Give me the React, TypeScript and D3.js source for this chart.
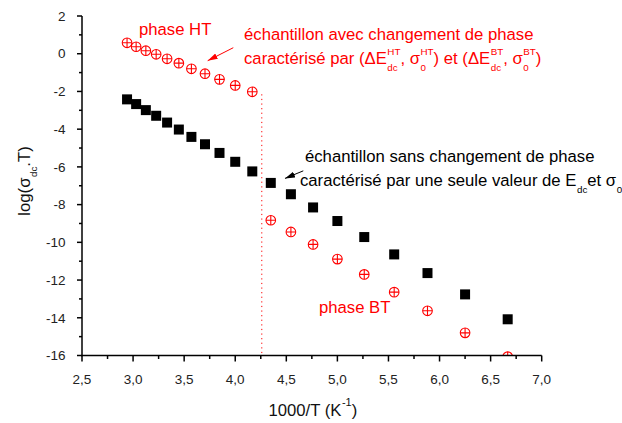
import React from "react";
import * as d3 from "d3";

const invT = [2.941, 3.030, 3.125, 3.226, 3.333, 3.448, 3.571, 3.704, 3.846, 4.0, 4.167, 4.348, 4.545, 4.762, 5.0, 5.263, 5.556, 5.882, 6.25, 6.667];
const noChange = [-2.42, -2.67, -2.99, -3.29, -3.65, -4.02, -4.41, -4.80, -5.26, -5.73, -6.24, -6.85, -7.45, -8.15, -8.87, -9.72, -10.64, -11.63, -12.76, -14.08];
const phaseHT = [0.58, 0.37, 0.16, -0.03, -0.27, -0.50, -0.80, -1.06, -1.36, -1.68, -2.02];
const phaseBT = [-8.83, -9.45, -10.11, -10.89, -11.70, -12.64, -13.63, -14.80, -16.06];

const xTicks = [2.5, 3.0, 3.5, 4.0, 4.5, 5.0, 5.5, 6.0, 6.5, 7.0];
const xMinor = [2.75, 3.25, 3.75, 4.25, 4.75, 5.25, 5.75, 6.25, 6.75];
const yTicks = [2, 0, -2, -4, -6, -8, -10, -12, -14, -16];
const yMinor = [1, -1, -3, -5, -7, -9, -11, -13, -15];

const transitionX = 4.26;
const transitionTop = -2.15;

const FONT = "'Liberation Sans', Arial, Helvetica, sans-serif";
const RED = "#ff0000";

let ctx: CanvasRenderingContext2D | null = null;
function tw(text: string, size: number) {
  if (!ctx) ctx = document.createElement("canvas").getContext("2d");
  if (!ctx) return text.length * size * 0.55;
  ctx.font = `${size}px ${FONT}`;
  return ctx.measureText(text).width;
}

type Seg = { t?: string; sup?: string; sub?: string; gap?: number };

function RichText({ segs, x, y, size, small, fill, transform, anchor }: { segs: Seg[]; x: number; y: number; size: number; small: number; fill: string; transform?: string; anchor?: string }) {
  const supDy = -size * 0.56;
  const subDy = size * 0.42;
  const spans: React.ReactNode[] = [];
  let cur = 0;
  let pending = 0;
  segs.forEach((s, i) => {
    if (s.t !== undefined) {
      spans.push(<tspan key={i + "t"} dy={-cur} dx={(s.gap || 0) + pending} fontSize={size}>{s.t}</tspan>);
      cur = 0;
      pending = 0;
    } else {
      const ws = s.sup ? tw(s.sup, small) : 0;
      const wb = s.sub ? tw(s.sub, small) : 0;
      if (s.sup) {
        spans.push(<tspan key={i + "p"} dx={pending + 0.5} dy={supDy - cur} fontSize={small}>{s.sup}</tspan>);
        cur = supDy;
        pending = 0;
      }
      if (s.sub) {
        spans.push(<tspan key={i + "b"} dx={(s.sup ? -ws : 0.5) + pending} dy={subDy - cur} fontSize={small}>{s.sub}</tspan>);
        cur = subDy;
        pending = s.sup ? Math.max(0, ws - wb) : 0;
      }
    }
  });
  return (
    <text x={x} y={y} fill={fill} fontFamily={FONT} fontSize={size} transform={transform} textAnchor={anchor}>
      {spans}
    </text>
  );
}

export default function App() {
  const W = 622, H = 423;
  const x = d3.scaleLinear().domain([2.5, 7.0]).range([82, 541.7]);
  const y = d3.scaleLinear().domain([-16, 2]).range([355.5, 16]);
  const [x0, x1] = x.range();
  const [yb, yt] = y.range();
  const fmt = (v: number) => d3.format(".1f")(v).replace(".", ",");
  const ann = 16.7;
  const sm = 9.8;

  const crossR = 4.8;
  const sq = 10;

  return (
    <svg width={W} height={H} style={{ position: "absolute", left: 0, top: 0, background: "#fff" }} fontFamily={FONT}>
      <defs>
        <clipPath id="plot">
          <rect x={x0} y={yt - 10} width={x1 - x0 + 10} height={yb - yt + 10} />
        </clipPath>
        <marker id="arrR" viewBox="0 0 10 6" refX="10" refY="3" markerWidth="10" markerHeight="6" markerUnits="userSpaceOnUse" orient="auto">
          <path d="M0,0 L10,3 L0,6 Z" fill={RED} />
        </marker>
        <marker id="arrK" viewBox="0 0 10 6" refX="10" refY="3" markerWidth="10" markerHeight="6" markerUnits="userSpaceOnUse" orient="auto">
          <path d="M0,0 L10,3 L0,6 Z" fill="#000" />
        </marker>
      </defs>
      <rect width={W} height={H} fill="#fff" />

      <line x1={x(transitionX)} x2={x(transitionX)} y1={y(transitionTop)} y2={yb} stroke={RED} strokeWidth={1} strokeDasharray="1.2,3.4" />

      {invT.map((v, i) => (
        <rect key={"k" + i} x={x(v) - sq / 2} y={y(noChange[i]) - sq / 2} width={sq} height={sq} fill="#000" />
      ))}

      <g clipPath="url(#plot)" stroke={RED} strokeWidth={1.1} fill="none">
        {phaseHT.map((v, i) => {
          const cx = x(invT[i]), cy = y(v);
          return (
            <g key={"h" + i}>
              <circle cx={cx} cy={cy} r={crossR} />
              <line x1={cx - crossR} x2={cx + crossR} y1={cy} y2={cy} />
              <line x1={cx} x2={cx} y1={cy - crossR} y2={cy + crossR} />
            </g>
          );
        })}
        {phaseBT.map((v, i) => {
          const cx = x(invT[i + 11]), cy = y(v);
          return (
            <g key={"b" + i}>
              <circle cx={cx} cy={cy} r={crossR} />
              <line x1={cx - crossR} x2={cx + crossR} y1={cy} y2={cy} />
              <line x1={cx} x2={cx} y1={cy - crossR} y2={cy + crossR} />
            </g>
          );
        })}
      </g>

      <g stroke="#000" strokeWidth={1.5}>
        <line x1={x0} x2={x0} y1={yt} y2={yb + 0.75} />
        <line x1={x0 - 0.75} x2={x1} y1={yb} y2={yb} />
        {yTicks.map((t) => <line key={"yt" + t} x1={x0 - 5} x2={x0} y1={y(t)} y2={y(t)} />)}
        {yMinor.map((t) => <line key={"ym" + t} x1={x0 - 3} x2={x0} y1={y(t)} y2={y(t)} />)}
        {xTicks.map((t) => <line key={"xt" + t} x1={x(t)} x2={x(t)} y1={yb} y2={yb + 6} />)}
        {xMinor.map((t) => <line key={"xm" + t} x1={x(t)} x2={x(t)} y1={yb} y2={yb + 3.5} />)}
      </g>
      <g fontSize={13.5} fill="#222">
        {yTicks.map((t) => (
          <text key={"yl" + t} x={65.5} y={y(t)} dy="0.35em" textAnchor="end">{String(t)}</text>
        ))}
        {xTicks.map((t) => (
          <text key={"xl" + t} x={x(t)} y={yb + 28.5} textAnchor="middle">{fmt(t)}</text>
        ))}
      </g>

      <RichText segs={[{ t: "1000/T (K" }, { sup: "-1" }, { t: ")" }]} x={(x0 + x1) / 2 + 1} y={415.5} size={ann} small={11} fill="#111" anchor="middle" />
      <RichText segs={[{ t: "log(σ" }, { sub: "dc" }, { t: ".T)" }]} x={0} y={0} size={ann} small={sm} fill="#111" anchor="middle" transform={`translate(29.5,181) rotate(-90)`} />

      <text x={x(3.058)} y={y(0.99)} fill={RED} fontSize={ann}>phase HT</text>
      <text x={x(4.086)} y={y(0.727)} fill={RED} fontSize={ann}>échantillon avec changement de phase</text>
      <RichText
        segs={[
          { t: "caractérisé par (ΔE" }, { sup: "HT", sub: "dc" }, { t: ", σ" }, { sup: "HT", sub: "0" },
          { t: ") et (ΔE" }, { sup: "BT", sub: "dc" }, { t: ", σ" }, { sup: "BT", sub: "0" }, { t: ")" },
        ]}
        x={x(4.086)} y={y(-0.545)} size={ann} small={sm} fill={RED}
      />
      <line x1={x(3.981)} y1={y(0.319)} x2={x(3.730)} y2={y(-0.371)} stroke={RED} strokeWidth={1} markerEnd="url(#arrR)" />

      <text x={x(4.683)} y={y(-5.73)} fill="#000" fontSize={ann}>échantillon sans changement de phase</text>
      <RichText
        segs={[{ t: "caractérisé par une seule valeur de E" }, { sub: "dc" }, { t: "et σ" }, { sub: "0" }]}
        x={x(4.634)} y={y(-7.02)} size={ann} small={sm} fill="#000"
      />
      <line x1={x(4.666)} y1={y(-6.21)} x2={x(4.487)} y2={y(-6.61)} stroke="#000" strokeWidth={1} markerEnd="url(#arrK)" />

      <text x={x(4.82)} y={y(-13.74)} fill={RED} fontSize={ann}>phase BT</text>
    </svg>
  );
}
